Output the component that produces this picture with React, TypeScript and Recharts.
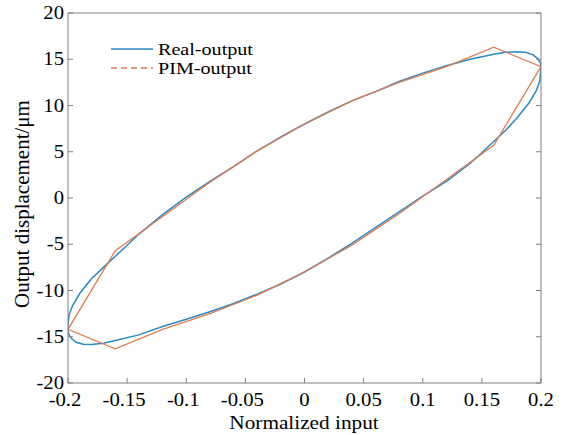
import React from "react";
import { LineChart, Line, XAxis, YAxis, Legend } from "recharts";

// Real output loop: rising branch (left to right), then falling branch (right to left)
const realX = [
  -0.2, -0.199, -0.196, -0.19, -0.18, -0.17, -0.16, -0.15, -0.14, -0.12, -0.1, -0.08, -0.06, -0.04, -0.02, 0,
  0.02, 0.04, 0.06, 0.08, 0.1, 0.12, 0.14, 0.16, 0.17, 0.18, 0.187, 0.193, 0.197, 0.1995, 0.2,
  0.199, 0.196, 0.19, 0.18, 0.17, 0.16, 0.15, 0.14, 0.12, 0.1, 0.08, 0.06, 0.04, 0.02, 0,
  -0.02, -0.04, -0.06, -0.08, -0.1, -0.12, -0.14, -0.16, -0.17, -0.18, -0.187, -0.193, -0.197, -0.1995, -0.2, -0.2,
];
const realY = [
  -13.5, -12.6, -11.6, -10.3, -8.7, -7.5, -6.3, -5.1, -3.9, -1.8, 0.1, 1.8, 3.4, 5.1, 6.6, 8.0,
  9.3, 10.5, 11.5, 12.6, 13.5, 14.3, 15.0, 15.55, 15.75, 15.82, 15.75, 15.5, 15.1, 14.6, 14.0,
  12.7, 11.6, 10.3, 8.7, 7.3, 6.1, 4.9, 3.75, 1.8, 0.2, -1.5, -3.2, -4.9, -6.5, -8.0,
  -9.3, -10.4, -11.4, -12.3, -13.1, -13.9, -14.8, -15.4, -15.7, -15.85, -15.82, -15.6, -15.2, -14.7, -14.2, -13.5,
];

// PIM output: piecewise linear loop
const pimX = [
  -0.2, -0.16, -0.12, -0.08, -0.04, 0, 0.04, 0.08, 0.12, 0.16, 0.2,
  0.16, 0.12, 0.08, 0.04, 0, -0.04, -0.08, -0.12, -0.16, -0.2,
];
const pimY = [
  -14.2, -5.7, -2.0, 1.7, 5.1, 8.0, 10.5, 12.5, 14.2, 16.3, 14.2,
  5.7, 2.0, -1.7, -5.1, -8.0, -10.5, -12.5, -14.2, -16.3, -14.2,
];

const xTicks = [-0.2, -0.15, -0.1, -0.05, 0, 0.05, 0.1, 0.15, 0.2];
const xTickLabels = ["-0.2", "-0.15", "-0.1", "-0.05", "0", "0.05", "0.1", "0.15", "0.2"];
const yTicks = [-20, -15, -10, -5, 0, 5, 10, 15, 20];

const realData = realX.map((x, i) => ({ x, y: realY[i] }));
const pimData = pimX.map((x, i) => ({ x, y: pimY[i] }));

const BLUE = "#2f87c0";
const ORANGE = "#dc7d52";
const AXIS = "#808080";
const FONT = "Liberation Serif";

// text slightly stretched horizontally, like the source figure
const SText = ({ x, y, size, anchor = "start", children }: any) => (
  <text
    x={0}
    y={0}
    transform={`translate(${x},${y}) scale(1.15,1)`}
    textAnchor={anchor}
    fontSize={size}
    style={{ fontFamily: FONT }}
    fill="#000"
  >
    {children}
  </text>
);

const BottomTick = (props: any) => {
  const { x, y, payload } = props;
  const i = xTicks.indexOf(payload.value);
  const label = xTickLabels[i] ?? String(payload.value);
  return (
    <g>
      <line x1={x} x2={x} y1={y} y2={y - 5} stroke={AXIS} />
      <SText x={x + (payload.value < 0 ? -3 : 0)} y={y + 23} size={18} anchor="middle">
        {label}
      </SText>
    </g>
  );
};

const TopTick = (props: any) => {
  const { x, y } = props;
  return <line x1={x} x2={x} y1={y} y2={y + 5} stroke={AXIS} />;
};

const LeftTick = (props: any) => {
  const { x, y, payload } = props;
  return (
    <g>
      <line x1={x} x2={x + 5} y1={y} y2={y} stroke={AXIS} />
      <SText x={x - 4} y={y + 6} size={18} anchor="end">
        {payload.value}
      </SText>
    </g>
  );
};

const RightTick = (props: any) => {
  const { x, y } = props;
  return <line x1={x - 5} x2={x} y1={y} y2={y} stroke={AXIS} />;
};

const LegendBox = () => (
  <svg width={170} height={44} style={{ display: "block" }}>
    <line x1={6} x2={48} y1={11} y2={11} stroke={BLUE} strokeWidth={1.3} />
    <SText x={53} y={17} size={17.5}>Real-output</SText>
    <line x1={6} x2={48} y1={30} y2={30} stroke={ORANGE} strokeWidth={1.3} strokeDasharray="6 4" />
    <SText x={53} y={36} size={17.5}>PIM-output</SText>
  </svg>
);

export default function App() {
  return (
    <div style={{ position: "absolute", left: 0, top: 0, width: 567, height: 435, background: "#fff" }}>
      <LineChart width={567} height={435} margin={{ top: 12, right: 25, bottom: 51, left: 67 }}>
        <XAxis
          dataKey="x"
          type="number"
          domain={[-0.2, 0.2]}
          ticks={xTicks}
          height={1}
          tickSize={0}
          tickMargin={0}
          stroke={AXIS}
          tick={<BottomTick />}
          allowDataOverflow
          label={() => (
            <SText x={304} y={429} size={18.5} anchor="middle">
              Normalized input
            </SText>
          )}
        />
        <XAxis
          xAxisId="top"
          orientation="top"
          type="number"
          domain={[-0.2, 0.2]}
          ticks={xTicks}
          height={1}
          tickSize={0}
          tickMargin={0}
          stroke={AXIS}
          tick={<TopTick />}
          allowDataOverflow
        />
        <YAxis
          type="number"
          domain={[-20, 20]}
          ticks={yTicks}
          width={1}
          tickSize={0}
          tickMargin={0}
          stroke={AXIS}
          tick={<LeftTick />}
          allowDataOverflow
          label={() => (
            <text
              x={0}
              y={0}
              transform="translate(22,204) rotate(-90)"
              textAnchor="middle"
              dominantBaseline="central"
              fontSize={21}
              style={{ fontFamily: FONT }}
              fill="#000"
            >
              Output displacement/μm
            </text>
          )}
        />
        <YAxis
          yAxisId="right"
          orientation="right"
          type="number"
          domain={[-20, 20]}
          ticks={yTicks}
          width={1}
          tickSize={0}
          tickMargin={0}
          stroke={AXIS}
          tick={<RightTick />}
          allowDataOverflow
        />
        <Legend
          layout="horizontal"
          verticalAlign="middle"
          align="center"
          content={() => <LegendBox />}
          wrapperStyle={{ position: "absolute", left: 105, top: 38, width: 170, height: 44 }}
        />
        <Line
          data={realData}
          dataKey="y"
          name="Real-output"
          type="linear"
          stroke={BLUE}
          strokeWidth={1.5}
          dot={false}
          isAnimationActive={false}
        />
        <Line
          data={pimData}
          dataKey="y"
          name="PIM-output"
          type="linear"
          stroke={ORANGE}
          strokeWidth={1.3}
          dot={false}
          isAnimationActive={false}
        />
      </LineChart>
    </div>
  );
}
